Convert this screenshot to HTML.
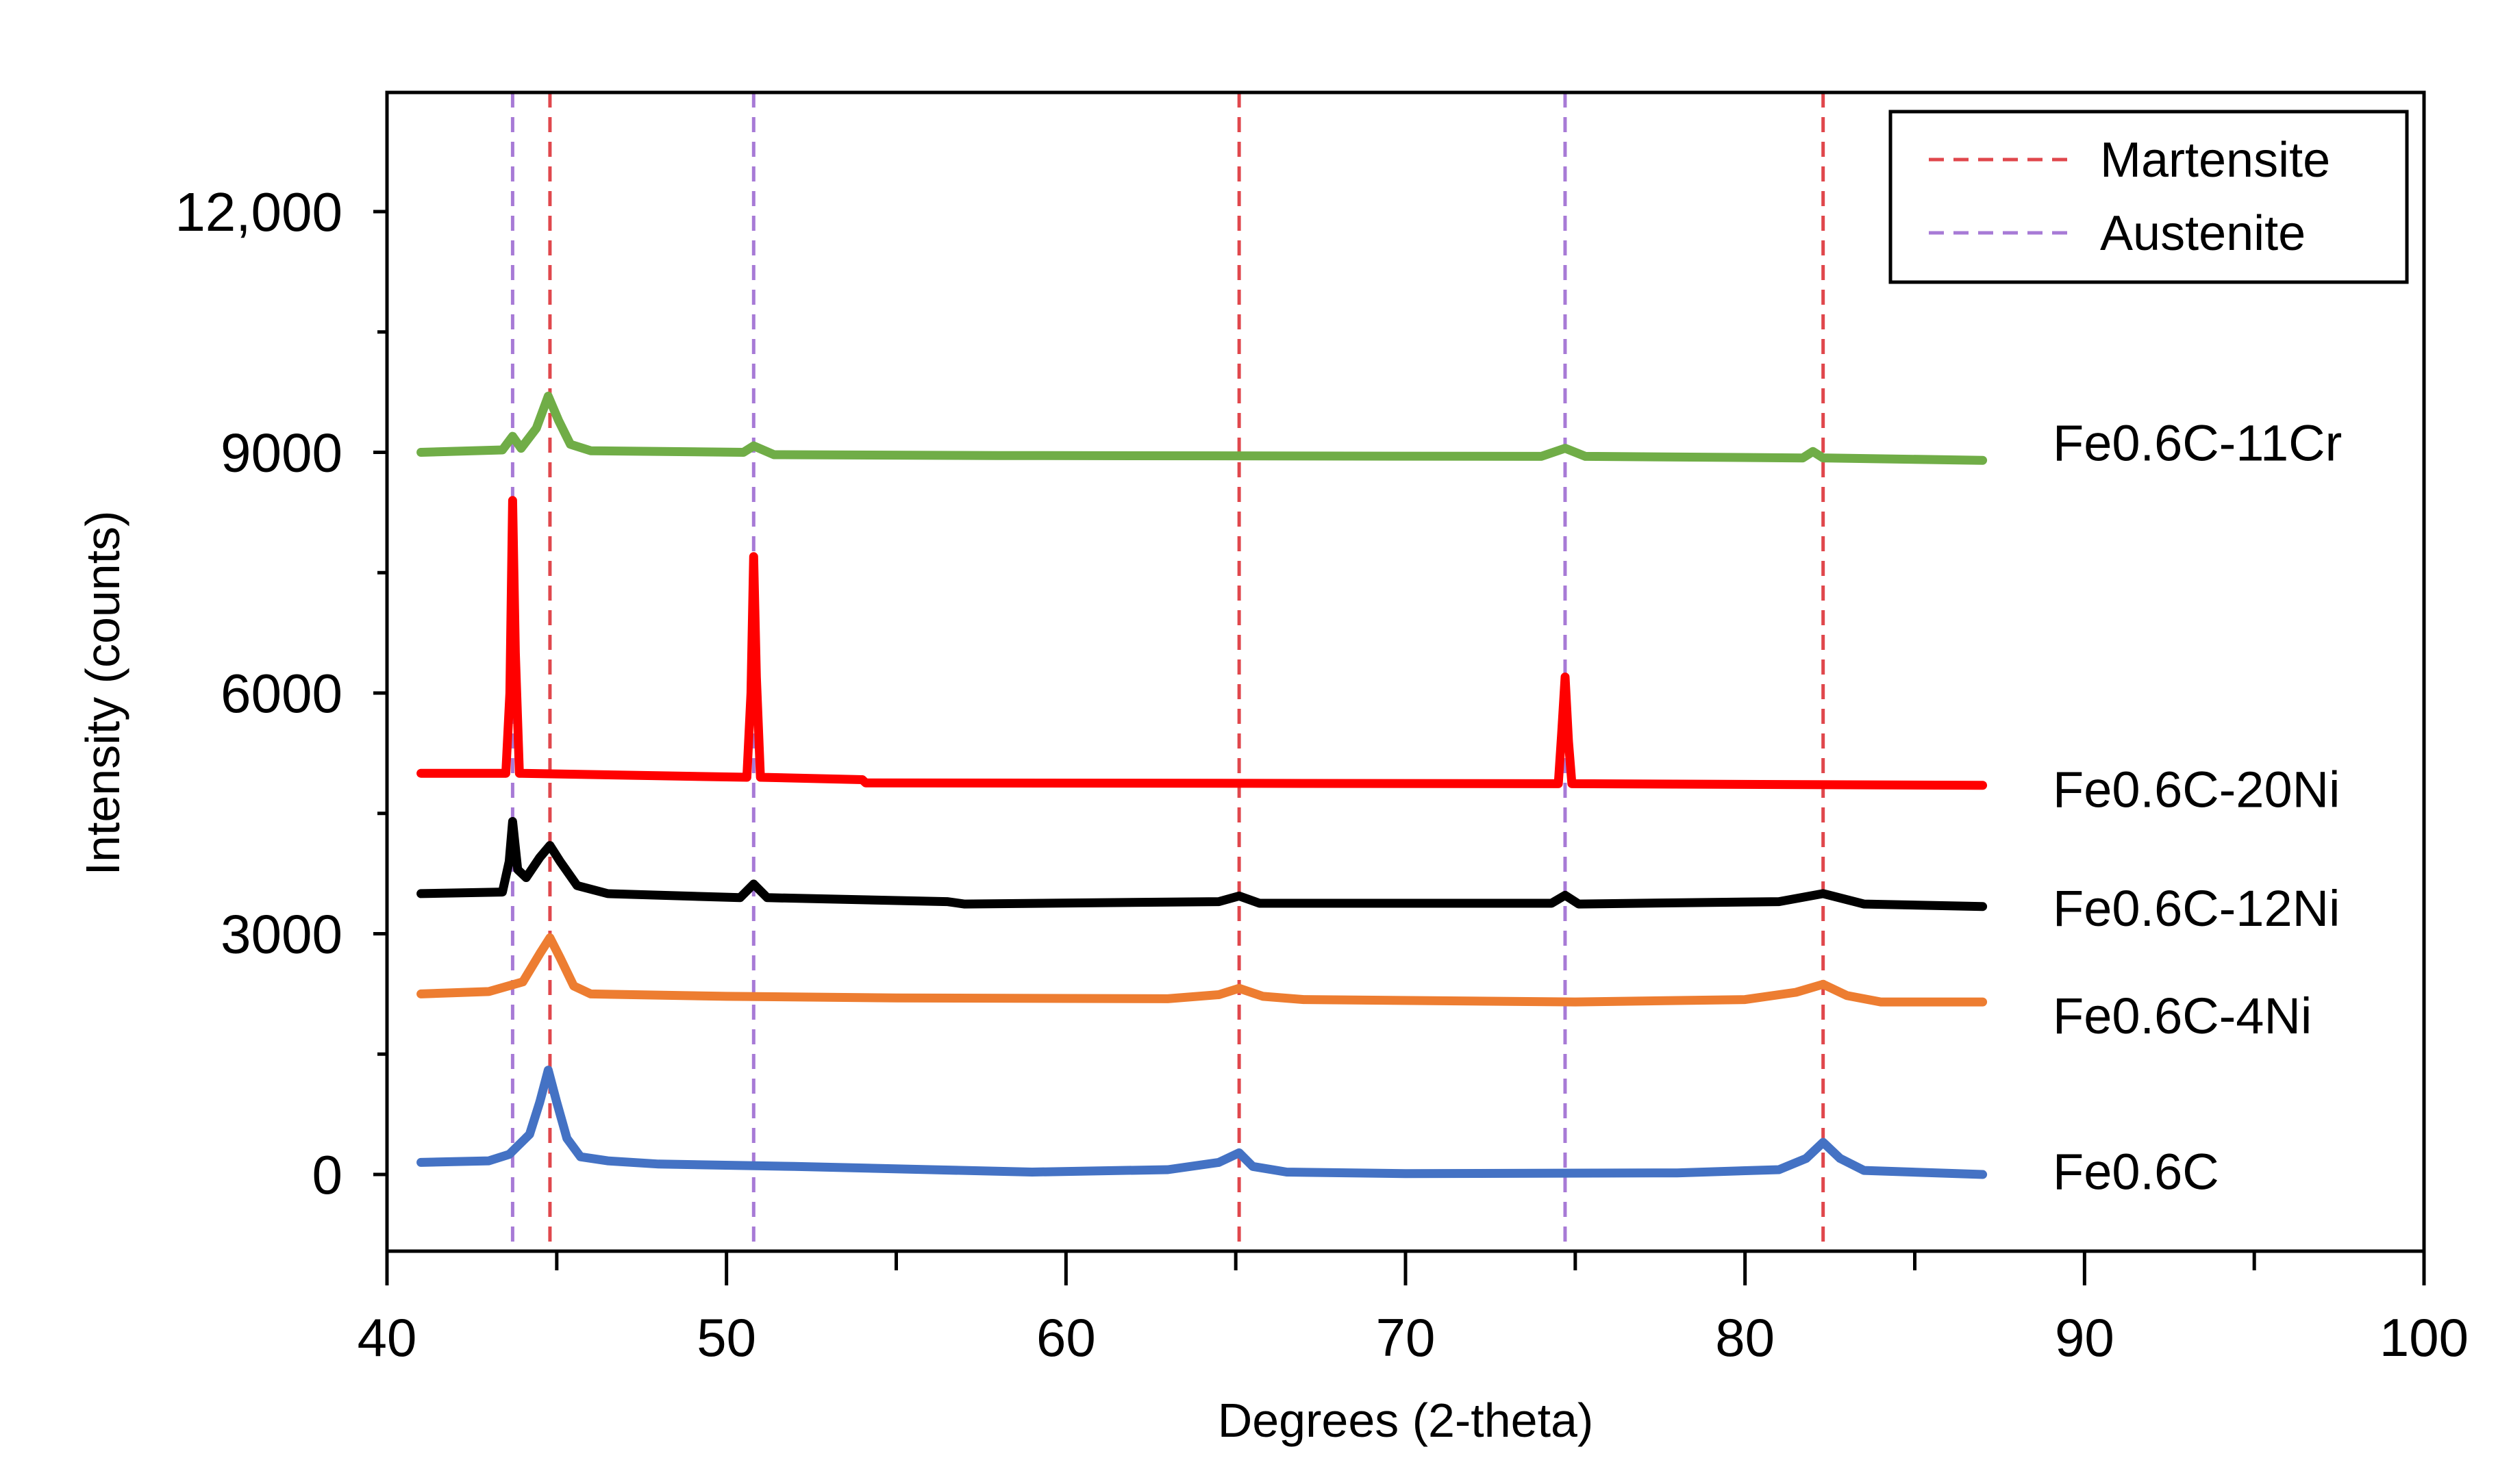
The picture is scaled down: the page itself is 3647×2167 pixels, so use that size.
<!DOCTYPE html>
<html><head><meta charset="utf-8"><style>
html,body{margin:0;padding:0;background:#fff;}
svg{display:block;font-family:"Liberation Sans",sans-serif;}
</style></head><body>
<svg id="chart" width="3647" height="2167" viewBox="0 0 3647 2167">
<rect x="0" y="0" width="3647" height="2167" fill="#fff"/>
<g id="grid"></g><g id="series"></g><g id="axes"></g>
</svg>
<script>
const xTicks=[40,50,60,70,80,90,100];
const yTicks=[0,3000,6000,9000,12000];
const yTickLabels=["0","3000","6000","9000","12,000"];
const martensite=[44.8,65.1,82.3];
const austenite=[43.7,50.8,74.7];
const seriesNames=["Fe0.6C","Fe0.6C-4Ni","Fe0.6C-12Ni","Fe0.6C-20Ni","Fe0.6C-11Cr"];
const seriesColors=["#4472c4","#ed7d31","#000000","#ff0000","#70ad47"];
const sBlue=[[41,150],[43,170],[43.6,250],[44.2,500],[44.5,900],[44.75,1300],[45.0,900],[45.3,450],[45.7,220],[46.5,170],[48,130],[52,100],[56,60],[59,30],[63,60],[64.5,150],[65.1,270],[65.5,100],[66.5,30],[70,10],[78,20],[81,60],[81.8,200],[82.3,400],[82.8,200],[83.5,50],[87,0]];
const sOrange=[[41,2250],[43,2280],[44,2400],[44.5,2750],[44.8,2950],[45.1,2700],[45.5,2350],[46,2250],[50,2220],[55,2200],[63,2190],[64.5,2240],[65.1,2320],[65.8,2220],[67,2180],[75,2150],[80,2180],[81.5,2270],[82.3,2370],[83,2230],[84,2150],[87,2150]];
const sBlack=[[41,3500],[43.4,3520],[43.6,3900],[43.7,4400],[43.85,3800],[44.1,3700],[44.5,3950],[44.8,4100],[45.1,3900],[45.6,3600],[46.5,3500],[50.4,3450],[50.8,3620],[51.2,3450],[56.5,3400],[57,3370],[64.5,3400],[65.1,3470],[65.7,3380],[74.3,3380],[74.7,3480],[75.1,3370],[81,3400],[82.3,3500],[83.5,3370],[87,3340]];
const sRed=[[41,5000],[43.5,5000],[43.62,6000],[43.7,8400],[43.78,6500],[43.9,5000],[50.6,4950],[50.72,6000],[50.8,7700],[50.88,6200],[51,4950],[54,4920],[54.1,4880],[74.5,4870],[74.6,5500],[74.7,6200],[74.8,5400],[74.9,4870],[87,4850]];
const sGreen=[[41,9000],[43.4,9030],[43.7,9200],[43.95,9050],[44.4,9300],[44.75,9700],[45.05,9400],[45.4,9100],[46,9020],[50.5,9000],[50.8,9080],[51.4,8970],[58,8960],[74,8950],[74.7,9050],[75.3,8950],[81.7,8930],[82,9010],[82.3,8930],[87,8900]];
const seriesData=[sBlue,sOrange,sBlack,sRed,sGreen];
const labelCounts=[40,1980,3320,4800,9120];

const L=565,R=3539,T=135,B=1827,Y0=1715,Y12=309;
const X=v=>L+(v-40)/60*(R-L);
const Y=v=>Y0-(v/12000)*(Y0-Y12);
const NS="http://www.w3.org/2000/svg";
function mk(tag,attrs,parent){const e=document.createElementNS(NS,tag);for(const k in attrs)e.setAttribute(k,attrs[k]);parent.appendChild(e);return e;}
const grid=document.getElementById('grid'),ser=document.getElementById('series'),ax=document.getElementById('axes');

martensite.forEach(v=>{const l=mk('line',{x1:X(v),x2:X(v),y1:T,y2:B,stroke:'#e0474c','stroke-width':5,'stroke-dasharray':'22,14'},grid);

});
austenite.forEach(v=>{const l=mk('line',{x1:X(v),x2:X(v),y1:T,y2:B,stroke:'#a77ad6','stroke-width':5,'stroke-dasharray':'22,14'},grid);

});

seriesData.forEach((d,i)=>{
 const p=mk('polyline',{points:d.map(q=>X(q[0]).toFixed(1)+','+Y(q[1]).toFixed(1)).join(' '),fill:'none',stroke:seriesColors[i],'stroke-width':13,'stroke-linejoin':'round','stroke-linecap':'round'},ser);
 
 
 const t=mk('text',{x:2997,y:Y(labelCounts[i])+26,'font-size':74,fill:'#000'},ser);
 t.textContent=seriesNames[i];
 
 
});

const fr=mk('rect',{x:L,y:T,width:R-L,height:B-T,fill:'none',stroke:'#000','stroke-width':5},ax);


for(let v=-1500;v<=13500;v+=1500){if(Y(v)<T||Y(v)>B)continue;
 const tk=mk('line',{x1:L-(v%3000===0?20:14),x2:L,y1:Y(v),y2:Y(v),stroke:'#000','stroke-width':5},ax);
 
 }
yTicks.forEach((v,i)=>{const t=mk('text',{x:L-65,y:Y(v)+28,'font-size':80,'text-anchor':'end',fill:'#000'},ax);t.textContent=yTickLabels[i];
 
 });
for(let v=40;v<=100;v+=5){
 const tk=mk('line',{x1:X(v),x2:X(v),y1:B,y2:B+(v%10===0?50:28),stroke:'#000','stroke-width':5},ax);
 
 }
xTicks.forEach(v=>{const t=mk('text',{x:X(v),y:1980,'font-size':78,'text-anchor':'middle',fill:'#000'},ax);t.textContent=v;
 
 });
const xt=mk('text',{x:2052,y:2098,'font-size':70,'text-anchor':'middle',fill:'#000'},ax);xt.textContent='Degrees (2-theta)';


const yt=mk('text',{x:0,y:0,'font-size':70,'text-anchor':'middle',fill:'#000',transform:'translate(174,1012) rotate(-90)'},ax);yt.textContent='Intensity (counts)';



const lg=mk('g',{},ax);


mk('rect',{x:2760,y:163,width:754,height:249,fill:'#fff',stroke:'#000','stroke-width':5},lg);
[['Martensite','#e0474c',233],['Austenite','#a77ad6',340]].forEach(e=>{
 const ln=mk('line',{x1:2816,x2:3026,y1:e[2],y2:e[2],stroke:e[1],'stroke-width':5,'stroke-dasharray':'22,14'},lg);
 
 
 const t=mk('text',{x:3066,y:e[2]+25,'font-size':72,fill:'#000'},lg);t.textContent=e[0];
 
 
});
</script>
</body></html>
